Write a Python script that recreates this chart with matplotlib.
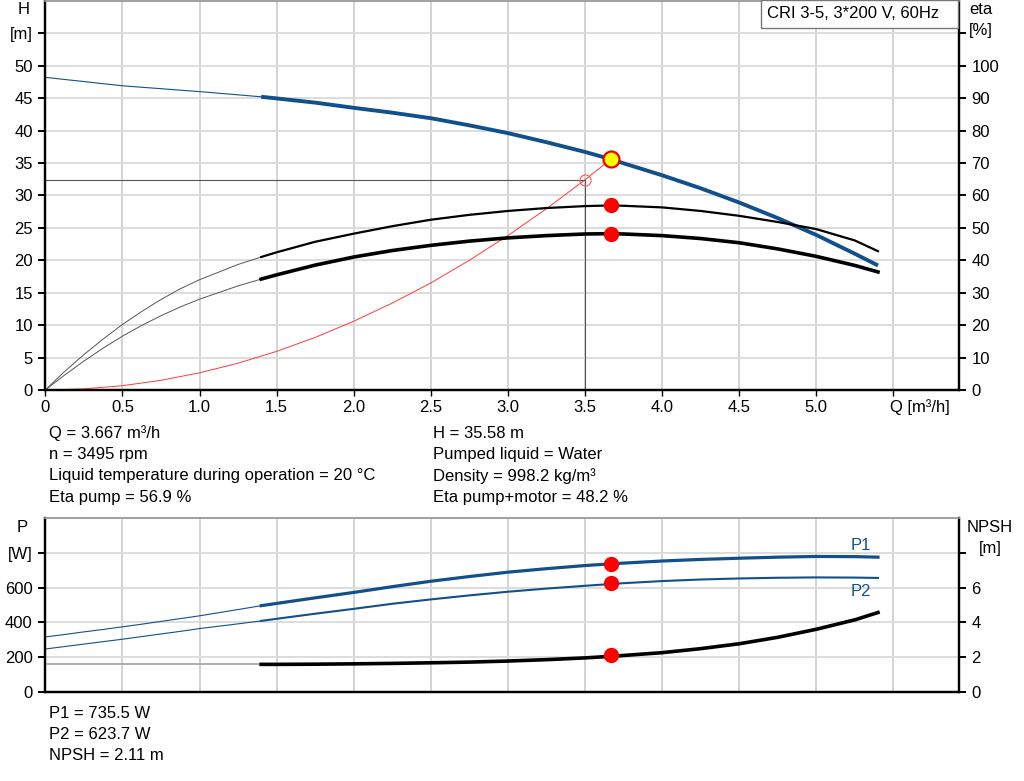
import matplotlib
matplotlib.use('Agg')
import matplotlib.pyplot as plt
from matplotlib.patches import Rectangle

plt.rcParams['font.family'] = ['Liberation Sans', 'DejaVu Sans']
plt.rcParams['font.size'] = 12

# Данные кривых (общая сетка по расходу)
q = [0, 0.125, 0.25, 0.375, 0.5, 0.625, 0.75, 0.875, 1.0, 1.25, 1.4, 1.5, 1.75, 2.0,
     2.25, 2.5, 2.75, 3.0, 3.25, 3.5, 3.667, 3.75, 4.0, 4.25, 4.5, 4.75, 5.0, 5.25, 5.4]
head = [48.2, 47.87, 47.55, 47.22, 46.9, 46.67, 46.45, 46.22, 46.0, 45.5, 45.2, 44.95,
        44.3, 43.5, 42.75, 41.9, 40.8, 39.6, 38.2, 36.7, 35.58, 34.95, 33.1, 31.1, 28.9,
        26.5, 23.9, 21.0, 19.2]
eta_pump = [0, 5.7, 10.9, 15.7, 20.2, 24.2, 27.9, 31.2, 34.0, 38.7, 41.0, 42.45,
            45.7, 48.2, 50.5, 52.5, 54.0, 55.2, 56.1, 56.7, 56.9, 56.8, 56.3, 55.2, 53.7,
            51.8, 49.6, 46.1, 42.8]
eta_total = [0, 4.6, 8.9, 12.9, 16.6, 19.9, 22.9, 25.6, 28.0, 32.1, 34.2, 35.5,
             38.5, 41.0, 43.0, 44.6, 45.9, 46.9, 47.6, 48.1, 48.2, 48.1, 47.6, 46.7, 45.4,
             43.5, 41.2, 38.4, 36.4]
p1 = [317, 331, 346, 360, 375, 390, 406, 422, 438, 474, 496, 509, 541, 572, 605, 636,
      663, 688, 708, 726, 735.5, 740, 752, 761, 768, 774, 778, 777, 774]
p2 = [248, 262, 276, 290, 304, 319, 334, 349, 365, 392, 409, 421, 450, 478, 507, 532,
      555, 576, 594, 610, 620, 625, 637, 646, 652, 656, 658, 657, 655]
npsh = [1.6, 1.6, 1.6, 1.6, 1.6, 1.6, 1.6, 1.6, 1.6, 1.6, 1.6, 1.6, 1.61, 1.63,
        1.655, 1.69, 1.73, 1.79, 1.87, 1.97, 2.06, 2.11, 2.27, 2.5, 2.78, 3.15, 3.61,
        4.15, 4.57]

# Кривая системы до рабочей точки
q_sys = [0, 0.25, 0.5, 0.75, 1.0, 1.25, 1.5, 1.75, 2.0, 2.25, 2.5, 2.75, 3.0, 3.25, 3.5, 3.667]
h_sys = [0, 0.17, 0.66, 1.49, 2.65, 4.13, 5.95, 8.1, 10.6, 13.4, 16.5, 20.0, 23.8, 27.95, 32.4, 35.58]

# Рабочая точка
q_op = 3.667
h_op = 35.58
eta_pump_op = 56.9
eta_total_op = 48.2
p1_op = 735.5
p2_op = 623.7
npsh_op = 2.11
q_req = 3.5
h_req = 32.4

q_min = 1.4
blue = '#12508c'

top_lines = ['Q = 3.667 m³/h', 'n = 3495 rpm',
             'Liquid temperature during operation = 20 °C', 'Eta pump = 56.9 %']
top_lines2 = ['H = 35.58 m', 'Pumped liquid = Water',
              'Density = 998.2 kg/m³', 'Eta pump+motor = 48.2 %']
bottom_lines = ['P1 = 735.5 W', 'P2 = 623.7 W', 'NPSH = 2.11 m']

W, H = 1024, 781
FS = 12


def split(v):
    n = len([a for a in q if a <= q_min])
    return q[:n], v[:n], q[n - 1:], v[n - 1:]


def style_axes(ax, ax2):
    for a in (ax, ax2):
        a.spines['top'].set_color('#a0a0a0')
        a.spines['top'].set_linewidth(1.2)
        a.spines['left'].set_linewidth(1.6)
        a.spines['right'].set_linewidth(1.6)
        a.spines['bottom'].set_linewidth(1.6)
        a.tick_params(axis='y', length=5, width=1.4, labelsize=FS, pad=4)
    ax.tick_params(axis='x', length=4, width=1.0)
    ax.set_axisbelow(True)
    ax.grid(axis='x', color='#c9cdd1', lw=1.2)
    ax.grid(axis='y', color='#dddddd', lw=1.4)


def px(x, y):
    return x / W, 1 - y / H


fig = plt.figure(figsize=(W / 100, H / 100), dpi=100)

left = 45.3 / W
width = (959 - 45.3) / W
xmax = (959 - 45.3) / 154.2

# Верхний график: напор и КПД
ax = fig.add_axes([left, 1 - 390 / H, width, 390 / H - 0.001])
ax2 = ax.twinx()
ax.set_xlim(0, xmax)
ax.set_ylim(0, 60)
ax2.set_ylim(0, 120)
style_axes(ax, ax2)

xt = [0, 0.5, 1.0, 1.5, 2.0, 2.5, 3.0, 3.5, 4.0, 4.5, 5.0, 5.5]
ax.set_xticks(xt)
ax.set_xticklabels(['0'] + ['%.1f' % v for v in xt[1:-1]] + [''], fontsize=FS)
ax.set_yticks(range(0, 60, 5))
ax.set_yticklabels([str(v) for v in range(0, 55, 5)] + ['[m]'])
ax2.set_yticks(range(0, 120, 10))
ax2.set_yticklabels([str(v) for v in range(0, 110, 10)] + [''])

tq, tv, kq, kv = split(head)
ax.plot(tq, tv, color=blue, lw=0.8)
ax.plot(kq, kv, color=blue, lw=2.8, solid_capstyle='butt')

tq, tv, kq, kv = split(eta_pump)
ax2.plot(tq, tv, color='#555555', lw=0.7)
ax2.plot(kq, kv, color='black', lw=1.6)
tq, tv, kq, kv = split(eta_total)
ax2.plot(tq, tv, color='#555555', lw=0.7)
ax2.plot(kq, kv, color='black', lw=2.6)

ax.plot(q_sys, h_sys, color='#ff3b3b', lw=0.7)
ax.plot([0, q_req], [h_req, h_req], color='#555555', lw=0.8)
ax.plot([q_req, q_req], [0, h_req], color='#555555', lw=0.8)
ax.plot(q_req, h_req, 'o', ms=8, mfc='none', mec='#ff5a5a', mew=0.8)
ax.plot(q_op, h_op, 'o', ms=11.5, mfc='#ffff00', mec='#ee0000', mew=1.6, zorder=5)
ax2.plot([q_op, q_op], [eta_pump_op, eta_total_op], 'o', ms=10, color='#ff0000',
         ls='none', zorder=5)

fig.text(*px(24, 9), 'H', ha='center', va='center', fontsize=FS)
fig.text(*px(981, 10), 'eta', ha='center', va='center', fontsize=FS)
fig.text(*px(981, 30), '[%]', ha='center', va='center', fontsize=FS)
fig.text(*px(920, 407), 'Q [m³/h]', ha='center', va='center', fontsize=FS)

# Рамка с названием насоса
x0, y0 = px(761, 28)
x1, y1 = px(958, 0)
fig.patches.append(Rectangle((x0, y0), x1 - x0, y1 - y0, transform=fig.transFigure,
                             fc='white', ec='#777777', lw=1.0, zorder=10))
fig.text(*px(767, 14), 'CRI 3-5, 3*200 V, 60Hz', va='center', fontsize=FS, zorder=11)

for i, s in enumerate(top_lines):
    fig.text(*px(49, 433 + 21.5 * i), s, va='center', fontsize=FS)
for i, s in enumerate(top_lines2):
    fig.text(*px(433, 433 + 21.5 * i), s, va='center', fontsize=FS)

# Нижний график: мощность и NPSH
bx = fig.add_axes([left, 1 - 692.3 / H, width, 174.6 / H])
bx2 = bx.twinx()
bx.set_xlim(0, xmax)
bx.set_ylim(0, 1000)
bx2.set_ylim(0, 10)
style_axes(bx, bx2)
bx.set_xticks(xt)
bx.tick_params(axis='x', length=0, labelbottom=False)
bx.set_yticks(range(0, 1000, 200))
bx.set_yticklabels(['0', '200', '400', '600', '[W]'])
bx2.set_yticks(range(0, 10, 2))
bx2.set_yticklabels(['0', '2', '4', '6', ''])

tq, tv, kq, kv = split(p1)
bx.plot(tq, tv, color=blue, lw=0.8)
bx.plot(kq, kv, color=blue, lw=2.3)
tq, tv, kq, kv = split(p2)
bx.plot(tq, tv, color=blue, lw=0.8)
bx.plot(kq, kv, color=blue, lw=1.5)
tq, tv, kq, kv = split(npsh)
bx2.plot(tq, tv, color='#a8a8a8', lw=1.3)
bx2.plot(kq, kv, color='black', lw=2.6)

bx.plot([q_op, q_op], [p1_op, p2_op], 'o', ms=10, color='#ff0000', ls='none', zorder=5)
bx2.plot(q_op, npsh_op, 'o', ms=10, color='#ff0000', zorder=5)

fig.text(*px(861, 546), 'P1', ha='center', va='center', color=blue, fontsize=FS)
fig.text(*px(861, 591), 'P2', ha='center', va='center', color=blue, fontsize=FS)
fig.text(*px(22, 527), 'P', ha='center', va='center', fontsize=FS)
fig.text(*px(990, 527), 'NPSH', ha='center', va='center', fontsize=FS)
fig.text(*px(990, 548), '[m]', ha='center', va='center', fontsize=FS)

for i, s in enumerate(bottom_lines):
    fig.text(*px(49, 713 + 21.5 * i), s, va='center', fontsize=FS)

fig.savefig('out.png', dpi=100)
